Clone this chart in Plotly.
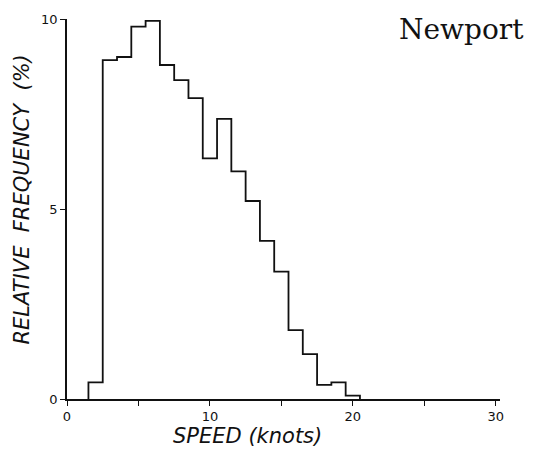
import plotly.graph_objects as go

# Data: wind speed histogram, Newport
speed_bins = [2, 3, 4, 5, 6, 7, 8, 9, 10, 11, 12, 13, 14, 15, 16, 17, 18, 19, 20]
rel_freq = [0.44, 8.92, 9.0, 9.8, 9.95, 8.79, 8.39, 7.92, 6.33, 7.37, 5.99, 5.21,
            4.16, 3.35, 1.81, 1.18, 0.37, 0.44, 0.09]
bin_width = 1.0
x_tickvals = [0, 5, 10, 15, 20, 25, 30]
x_ticktext = ["0", "", "10", "", "20", "", "30"]
y_tickvals = [0, 5, 10]
y_ticktext = ["0", "5", "10"]

# Build step outline from bin centres
xs = [speed_bins[0] - bin_width / 2]
ys = [0]
for c, f in zip(speed_bins, rel_freq):
    xs.append(c - bin_width / 2)
    ys.append(f)
xs.append(speed_bins[-1] + bin_width / 2)
ys.append(0)

fig = go.Figure()
fig.add_trace(go.Scatter(x=xs, y=ys, mode="lines", line=dict(shape="hv", color="#111", width=1.8),
                         hoverinfo="skip", showlegend=False))

tick_font = dict(family="DejaVu Sans", size=13, color="#111")
title_font = dict(family="DejaVu Sans", size=21, color="#111", style="italic")

W, H = 535, 454
L, R, T, B = 67, 35, 14, 55
pw, ph = W - L - R, H - T - B


def px_x(p):
    return (p - L) / pw


def px_y(p):
    return 1 - (p - T) / ph


fig.update_layout(
    width=W, height=H,
    margin=dict(l=L, r=R, t=T, b=B),
    paper_bgcolor="white", plot_bgcolor="white",
    xaxis=dict(range=[0, 30.3], tickvals=x_tickvals, ticktext=x_ticktext,
               ticks="outside", ticklen=5, tickcolor="#111", tickwidth=1.3,
               showline=True, linecolor="#111", linewidth=1.5, showgrid=False, zeroline=False,
               tickfont=tick_font),
    yaxis=dict(range=[0, 10], tickvals=y_tickvals, ticktext=y_ticktext,
               ticks="outside", ticklen=5, tickcolor="#111", tickwidth=1.3,
               showline=True, linecolor="#111", linewidth=1.5, showgrid=False, zeroline=False,
               tickfont=tick_font),
)
fig.add_annotation(text="SPEED (knots)", xref="paper", yref="paper",
                   x=px_x(247), y=px_y(436), xanchor="center", yanchor="middle",
                   showarrow=False, font=title_font)
fig.add_annotation(text="RELATIVE  FREQUENCY  (%)", xref="paper", yref="paper",
                   x=px_x(22), y=px_y(197), xanchor="center", yanchor="middle",
                   textangle=-90, showarrow=False, font=title_font)
fig.add_annotation(text="Newport", xref="paper", yref="paper",
                   x=px_x(526), y=px_y(25), xanchor="right", yanchor="middle",
                   showarrow=False,
                   font=dict(family="DejaVu Serif", size=28, color="#111"))

fig.write_html("out.html")
